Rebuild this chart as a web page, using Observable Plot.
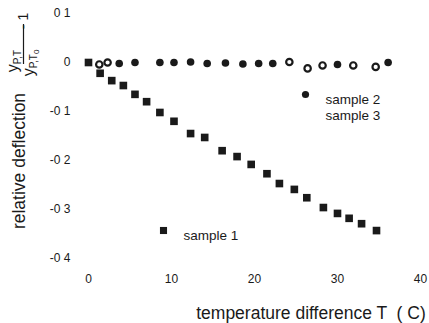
<!DOCTYPE html>
<html>
<head>
<meta charset="utf-8">
<script src="https://cdn.jsdelivr.net/npm/d3@7"></script>
<script src="https://cdn.jsdelivr.net/npm/@observablehq/plot@0.6"></script>
<style>
  html, body { margin: 0; padding: 0; background: #fff; }
  svg { display: block; font-family: Arial, "Liberation Sans", sans-serif; }
</style>
</head>
<body>
<div id="chart"></div>
<script>
// sample 1 (squares)
const temp1 = [0, 1.4, 2.8, 4.2, 5.6, 7.0, 8.6, 10.3, 12.3, 14.0, 16.1, 17.9, 19.6, 21.5, 23.0, 24.8, 26.3, 28.3, 30.0, 31.4, 32.9, 34.7];
const sample1 = [0, -0.022, -0.037, -0.047, -0.065, -0.080, -0.102, -0.120, -0.145, -0.153, -0.180, -0.192, -0.208, -0.227, -0.247, -0.259, -0.276, -0.296, -0.308, -0.318, -0.329, -0.343];
// sample 2 (filled circles)
const temp2 = [3.7, 5.6, 8.6, 10.3, 12.3, 14.3, 16.5, 18.6, 20.5, 22.2, 30.0, 36.1];
const sample2 = [-0.002, 0.0, 0.0, 0.0, 0.001, -0.002, -0.001, -0.003, -0.002, -0.002, -0.004, 0.0];
// sample 3 (open circles)
const temp3 = [1.3, 2.3, 24.2, 26.4, 28.2, 31.9, 34.6];
const sample3 = [-0.004, 0.0, 0.001, -0.012, -0.006, -0.006, -0.009];

const xTicks = [0, 10, 20, 30, 40];
const yTicks = [0.1, 0, -0.1, -0.2, -0.3, -0.4];
const yTickLabels = ["0 1", "0", "-0 1", "-0 2", "-0 3", "-0 4"];
const xTitle = "temperature difference T  ( C)";
const yTitle = "relative deflection";
const legendNames = ["sample 1", "sample 2", "sample 3"];

const rows1 = temp1.map((t, i) => ({t, v: sample1[i]}));
const rows2 = temp2.map((t, i) => ({t, v: sample2[i]}));
const rows3 = temp3.map((t, i) => ({t, v: sample3[i]}));

const ink = "#1a1a1a";
const font = "Arial, 'Liberation Sans', sans-serif";

const plot = Plot.plot({
  width: 429,
  height: 323,
  marginLeft: 88,
  marginRight: 9,
  marginTop: 13,
  marginBottom: 65,
  style: {fontFamily: font, background: "#fff", color: ink},
  x: {domain: [0, 40]},
  y: {domain: [-0.4, 0.1]},
  marks: [
    Plot.axisX({ticks: xTicks, tickSize: 0, tickPadding: 16, fontSize: 12, label: null}),
    Plot.axisY({ticks: yTicks, tickSize: 0, tickPadding: 18, fontSize: 12, label: null,
      tickFormat: d => yTickLabels[yTicks.indexOf(d)]}),
    Plot.dot(rows1, {x: "t", y: "v", symbol: "square", r: 4.3, fill: ink, stroke: "none"}),
    Plot.dot(rows2, {x: "t", y: "v", r: 3.8, fill: ink, stroke: "none"}),
    Plot.dot(rows3, {x: "t", y: "v", r: 3.2, fill: "none", stroke: ink, strokeWidth: 2.2}),
    // legend: sample 1
    Plot.dot([legendNames[0]], {frameAnchor: "top-left", dx: 75, dy: 217, symbol: "square", r: 4, fill: ink}),
    Plot.text([legendNames[0]], {frameAnchor: "top-left", dx: 95, dy: 217, textAnchor: "start", fontSize: 13.5, fill: ink}),
    // legend: sample 2, sample 3
    Plot.dot([legendNames[1]], {frameAnchor: "top-left", dx: 217, dy: 81, r: 3.6, fill: ink}),
    Plot.text([legendNames[1]], {frameAnchor: "top-left", dx: 237, dy: 81, textAnchor: "start", fontSize: 13.5, fill: ink}),
    Plot.text([legendNames[2]], {frameAnchor: "top-left", dx: 237, dy: 97, textAnchor: "start", fontSize: 13.5, fill: ink})
  ]
});

const svg = d3.select(plot);

// x axis title
svg.append("text")
  .attr("x", 311).attr("y", 313).attr("dy", "0.35em")
  .attr("text-anchor", "middle").attr("font-family", font).attr("font-size", 17.5)
  .attr("fill", ink).text(xTitle);

// y axis title
svg.append("text")
  .attr("transform", "translate(19,161) rotate(-90)").attr("dy", "0.35em")
  .attr("text-anchor", "middle").attr("font-family", font).attr("font-size", 17.5)
  .attr("fill", ink).text(yTitle);

// fraction label  y_{P,T} / y_{P,T0} - 1, rotated to read bottom-to-top
svg.append("line")
  .attr("x1", 23.5).attr("x2", 23.5).attr("y1", 64).attr("y2", 24)
  .attr("stroke", ink).attr("stroke-width", 1.2);
const num = svg.append("text")
  .attr("transform", "translate(18,61) rotate(-90)")
  .attr("font-family", font).attr("font-size", 16).attr("fill", ink);
num.append("tspan").text("y");
num.append("tspan").attr("font-size", 10).attr("dy", 3).text("P,T");
const den = svg.append("text")
  .attr("transform", "translate(34,63) rotate(-90)")
  .attr("font-family", font).attr("font-size", 16).attr("fill", ink);
den.append("tspan").text("y");
den.append("tspan").attr("font-size", 10).attr("dy", 3).text("P,T");
den.append("tspan").attr("font-size", 8).attr("dy", 2).text("0");
svg.append("text")
  .attr("transform", "translate(28,21) rotate(-90)")
  .attr("font-family", font).attr("font-size", 14).attr("fill", ink).text("- 1");

document.getElementById("chart").appendChild(plot);
</script>
</body>
</html>
